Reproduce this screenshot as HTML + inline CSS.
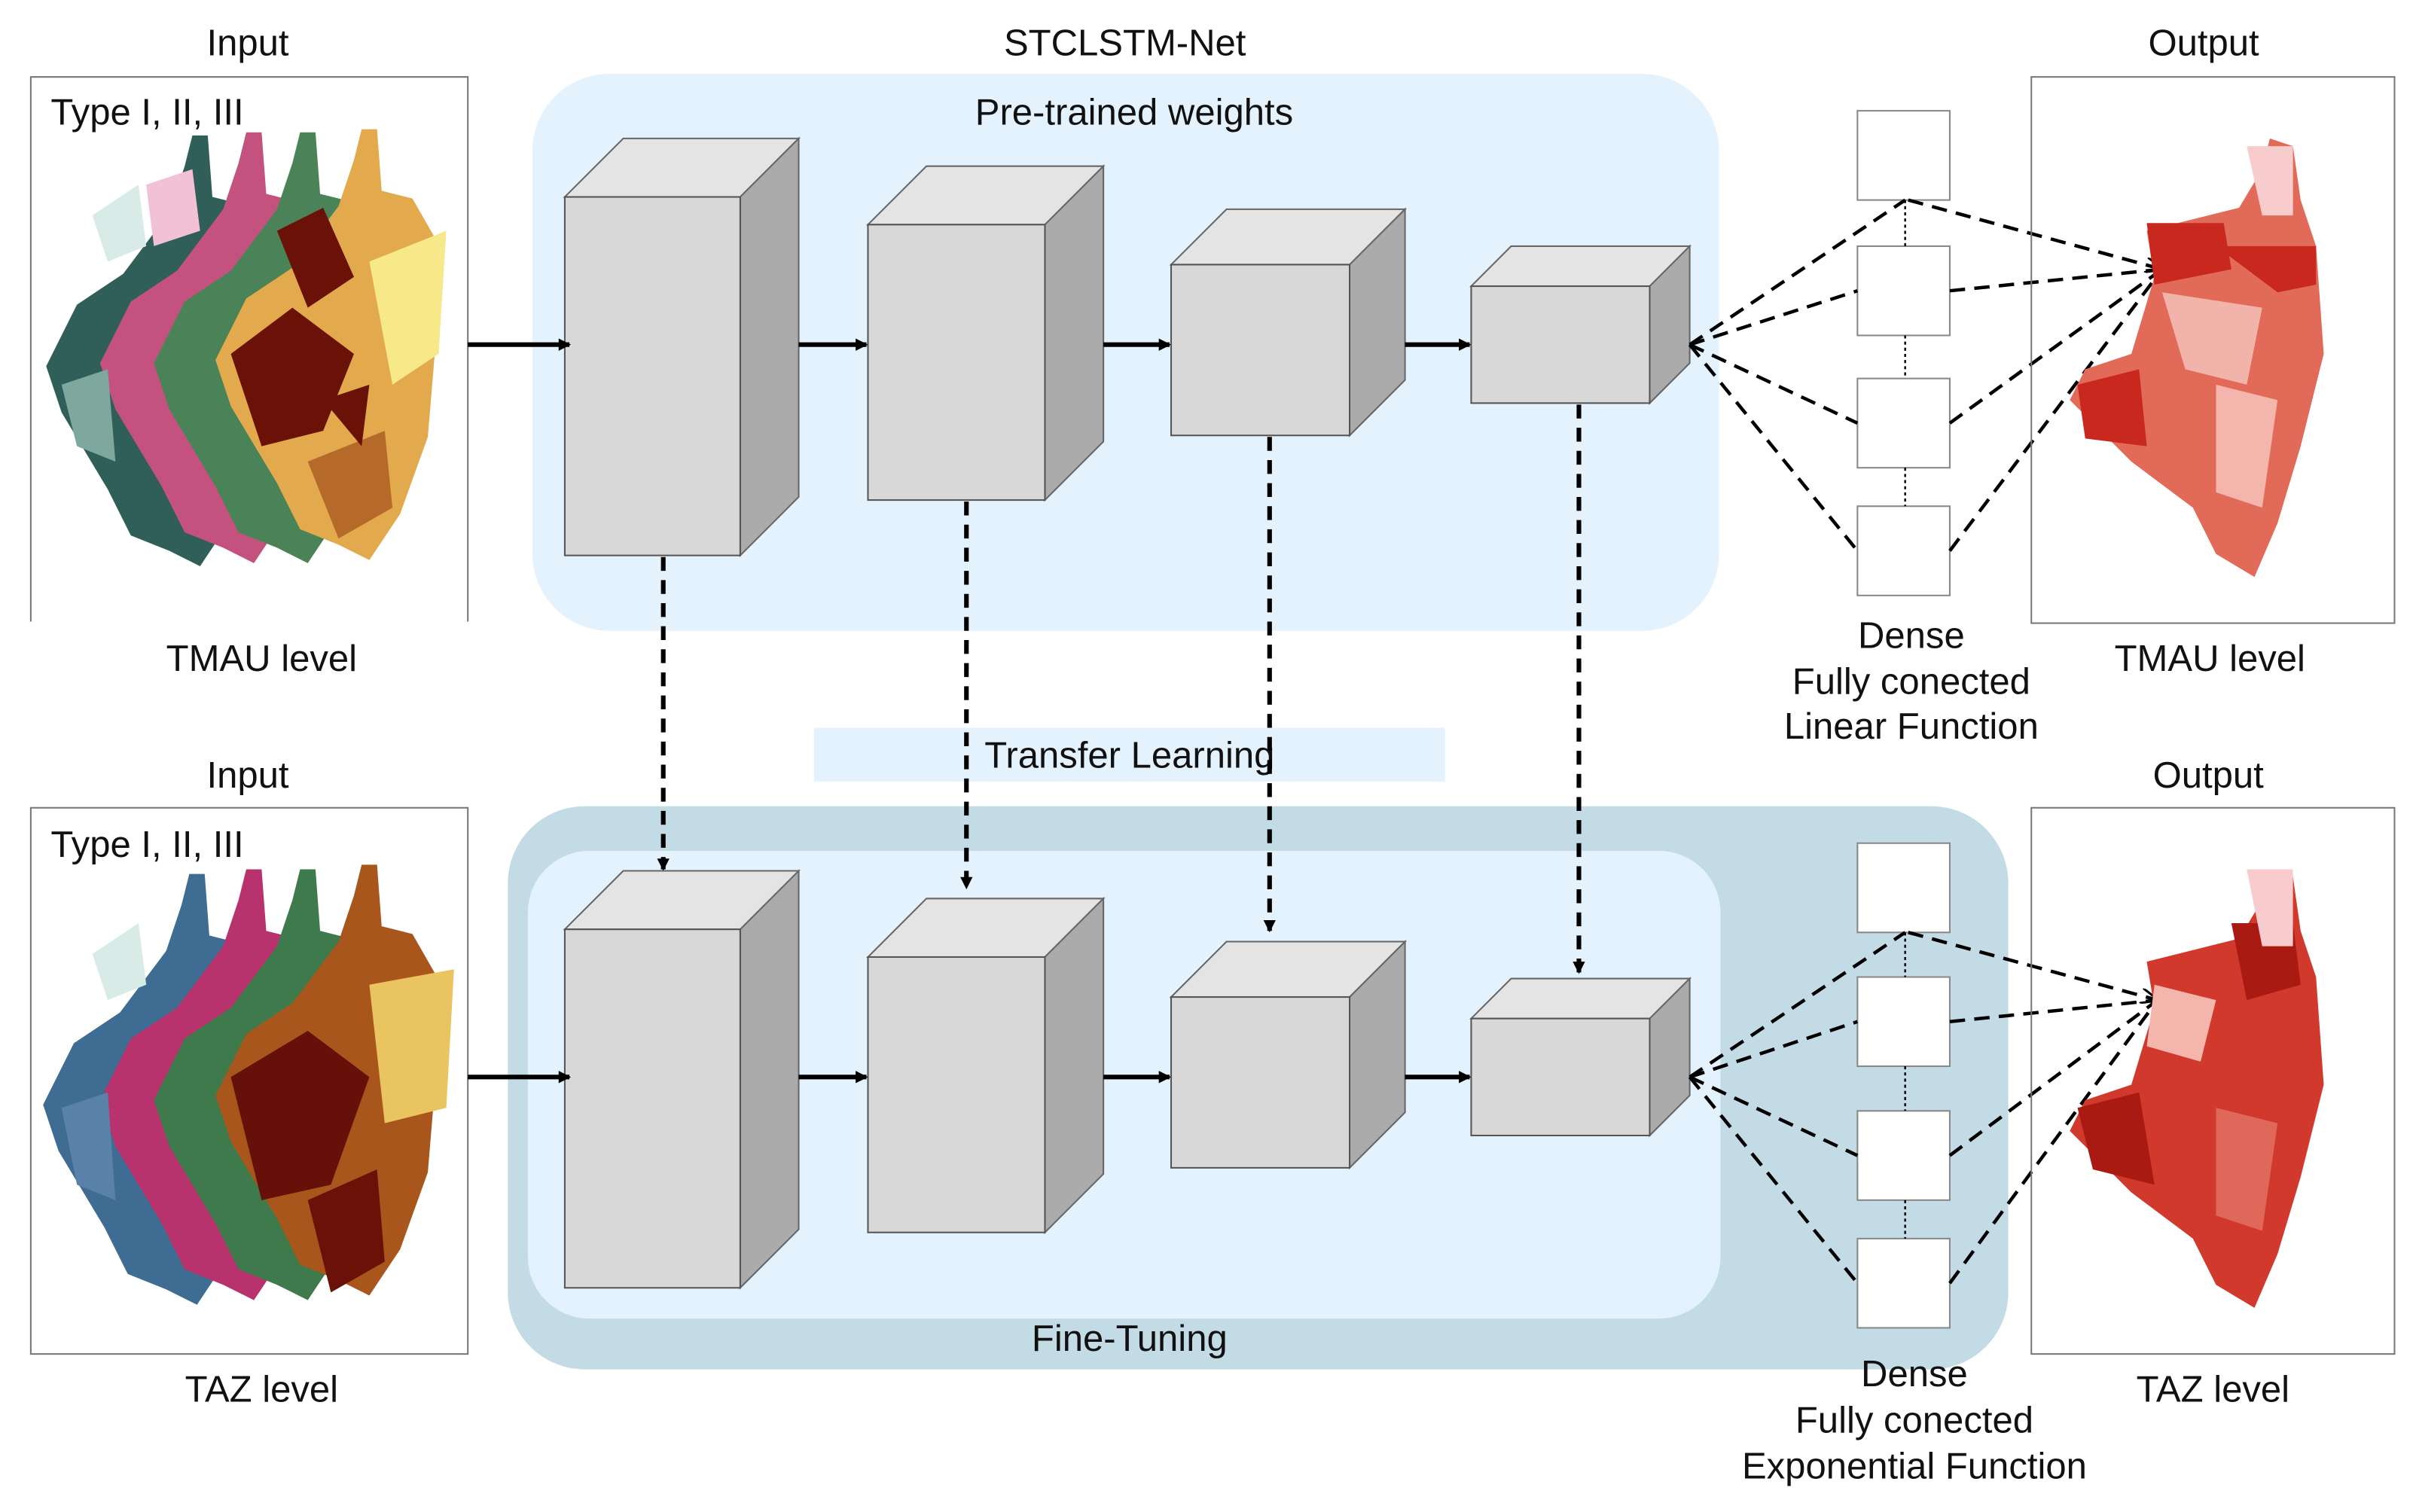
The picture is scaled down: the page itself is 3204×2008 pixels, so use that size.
<!DOCTYPE html>
<html><head><meta charset="utf-8"><style>
html,body{margin:0;padding:0;background:#fff;}
svg{display:block;}
text{font-family:"Liberation Sans Narrow","Liberation Sans",sans-serif;font-size:24px;fill:#111;}
</style></head><body>
<svg width="3204" height="2008" viewBox="0 0 1568 982.7" xmlns="http://www.w3.org/2000/svg">
<defs>
<marker id="ah" markerWidth="8" markerHeight="8" refX="7" refY="4" orient="auto" markerUnits="userSpaceOnUse"><path d="M0,0 L8,4 L0,8 z" fill="#000"/></marker>
<marker id="ah2" markerWidth="12" markerHeight="10" refX="11" refY="5" orient="auto" markerUnits="userSpaceOnUse"><path d="M0,0 L12,5 L0,10" fill="none" stroke="#000" stroke-width="1.5"/></marker>
<path id="shp" d="M95,0 L105,0 L108,40 L128,45 L148,80 L143,140 L138,200 L120,250 L100,280 L80,270 L55,260 L40,230 L10,180 L0,150 L20,110 L50,90 L80,50 L90,20 Z"/>
<path id="oshp" d="M130,0 L145,5 L150,40 L160,70 L165,140 L150,200 L135,250 L120,285 L95,270 L80,240 L40,210 L0,170 L10,150 L40,140 L55,90 L50,60 L90,50 L110,45 L125,20 Z"/>
<g id="cubes">
 <polygon points="367,128 405,90 519,90 481,128" fill="#e4e4e4" stroke="#666" stroke-width="1"/>
 <polygon points="481,128 519,90 519,323 481,361" fill="#ababab" stroke="#666" stroke-width="1"/>
 <rect x="367" y="128" width="114" height="233" fill="#d8d8d8" stroke="#555" stroke-width="1"/>
 <polygon points="564,146 602,108 717,108 679,146" fill="#e4e4e4" stroke="#666" stroke-width="1"/>
 <polygon points="679,146 717,108 717,287 679,325" fill="#ababab" stroke="#666" stroke-width="1"/>
 <rect x="564" y="146" width="115" height="179" fill="#d8d8d8" stroke="#555" stroke-width="1"/>
 <polygon points="761,172 797,136 913,136 877,172" fill="#e4e4e4" stroke="#666" stroke-width="1"/>
 <polygon points="877,172 913,136 913,247 877,283" fill="#ababab" stroke="#666" stroke-width="1"/>
 <rect x="761" y="172" width="116" height="111" fill="#d8d8d8" stroke="#555" stroke-width="1"/>
 <polygon points="956,186 982,160 1098,160 1072,186" fill="#e4e4e4" stroke="#666" stroke-width="1"/>
 <polygon points="1072,186 1098,160 1098,236 1072,262" fill="#ababab" stroke="#666" stroke-width="1"/>
 <rect x="956" y="186" width="116" height="76" fill="#d8d8d8" stroke="#555" stroke-width="1"/>
 <g stroke="#000" stroke-width="3" marker-end="url(#ah)">
  <line x1="304" y1="224" x2="370" y2="224"/>
  <line x1="519" y1="224" x2="563" y2="224"/>
  <line x1="717" y1="224" x2="760" y2="224"/>
  <line x1="913" y1="224" x2="955" y2="224"/>
 </g>
</g>
</defs>

<text x="161" y="36" text-anchor="middle">Input</text>
<text x="731" y="36" text-anchor="middle">STCLSTM-Net</text>
<text x="1432" y="36" text-anchor="middle">Output</text>
<path d="M20,404 L20,50 L304,50 L304,404" fill="none" stroke="#777" stroke-width="1"/>
<text x="33" y="81">Type I, II, III</text>
<text x="170" y="436" text-anchor="middle">TMAU level</text>

<g>
 <use href="#shp" x="30" y="88" fill="#2f5f58"/>
 <use href="#shp" x="65" y="86" fill="#c4527f"/>
 <use href="#shp" x="100" y="86" fill="#4b8358"/>
 <use href="#shp" x="140" y="84" fill="#e3a94d"/>
 <polygon points="150,230 190,200 230,230 210,280 170,290" fill="#6b1208"/>
 <polygon points="180,150 210,135 230,180 200,200" fill="#6b1208"/>
 <polygon points="240,170 290,150 285,230 255,250" fill="#f7e88a"/>
 <polygon points="200,300 250,280 255,330 220,350" fill="#b56a2a"/>
 <polygon points="60,140 90,120 95,160 70,170" fill="#d8ebe6"/>
 <polygon points="95,120 125,110 130,150 100,160" fill="#f3c1d6"/>
 <polygon points="40,250 70,240 75,300 50,290" fill="#7ea79e"/>
 <polygon points="210,260 240,250 235,290" fill="#6b1208"/>
</g>

<rect x="346" y="48" width="771" height="362" rx="50" fill="#e4f2fd"/>
<text x="737" y="81" text-anchor="middle">Pre-trained weights</text>
<use href="#cubes"/>

<g fill="#fff" stroke="#888" stroke-width="1">
 <rect x="1207" y="72" width="60" height="58"/>
 <rect x="1207" y="160" width="60" height="58"/>
 <rect x="1207" y="246" width="60" height="58"/>
 <rect x="1207" y="329" width="60" height="58"/>
</g>
<g stroke="#000" stroke-width="1.2" stroke-dasharray="2,2">
 <line x1="1238" y1="130" x2="1238" y2="160"/><line x1="1238" y1="218" x2="1238" y2="246"/><line x1="1238" y1="304" x2="1238" y2="329"/>
</g>
<g stroke="#000" stroke-width="2.2" stroke-dasharray="10,6" fill="none">
 <line x1="1098" y1="224" x2="1238" y2="130"/><line x1="1098" y1="224" x2="1207" y2="189"/>
 <line x1="1098" y1="224" x2="1207" y2="275"/><line x1="1098" y1="224" x2="1207" y2="358"/>
 <line x1="1240" y1="130" x2="1405" y2="175" marker-end="url(#ah2)"/><line x1="1267" y1="189" x2="1405" y2="175"/>
 <line x1="1267" y1="275" x2="1405" y2="175"/><line x1="1267" y1="358" x2="1405" y2="175"/>
</g>
<text x="1242" y="421" text-anchor="middle">Dense</text>
<text x="1242" y="451" text-anchor="middle">Fully conected</text>
<text x="1242" y="480" text-anchor="middle">Linear Function</text>

<rect x="1320" y="50" width="236" height="355" fill="none" stroke="#777" stroke-width="1"/>
<use href="#oshp" x="1345" y="90" fill="#e26a58"/>
<polygon points="1395,145 1445,145 1450,175 1400,185" fill="#c8281e"/>
<polygon points="1440,160 1505,160 1505,185 1480,190" fill="#c8281e"/>
<polygon points="1405,190 1470,200 1460,250 1420,240" fill="#f2b4aa"/>
<polygon points="1350,250 1390,240 1395,290 1355,285" fill="#c8281e"/>
<polygon points="1460,95 1490,95 1490,140 1470,140" fill="#f8cccc"/>
<polygon points="1440,250 1480,260 1470,330 1440,320" fill="#f4b6ac"/>
<text x="1436" y="436" text-anchor="middle">TMAU level</text>

<rect x="529" y="473" width="410" height="35" fill="#e4f2fd"/>
<text x="734" y="499" text-anchor="middle">Transfer Learning</text>

<text x="161" y="512" text-anchor="middle">Input</text>
<text x="1435" y="512" text-anchor="middle">Output</text>
<rect x="20" y="525" width="284" height="355" fill="none" stroke="#777" stroke-width="1"/>
<text x="33" y="557">Type I, II, III</text>
<text x="170" y="911" text-anchor="middle">TAZ level</text>
<g>
 <use href="#shp" x="28" y="568" fill="#3e6c93"/>
 <use href="#shp" x="65" y="565" fill="#b8336e"/>
 <use href="#shp" x="100" y="565" fill="#3f7a4c"/>
 <use href="#shp" x="140" y="562" fill="#a8561c"/>
 <polygon points="150,700 200,670 240,700 215,770 170,780" fill="#651008"/>
 <polygon points="240,640 295,630 290,720 250,730" fill="#e9c460"/>
 <polygon points="200,780 245,760 250,820 215,840" fill="#6b1208"/>
 <polygon points="60,620 90,600 95,640 70,650" fill="#d8ebe6"/>
 <polygon points="40,720 70,710 75,780 50,770" fill="#5a82a8"/>
</g>

<rect x="330" y="524" width="975" height="366" rx="50" fill="#c2dbe4"/>
<rect x="343" y="553" width="775" height="304" rx="40" fill="#e4f2fd"/>
<text x="734" y="878" text-anchor="middle">Fine-Tuning</text>
<use href="#cubes" y="476"/>

<g stroke="#000" stroke-width="3" stroke-dasharray="9,6" marker-end="url(#ah)">
 <line x1="431" y1="362" x2="431" y2="565"/>
 <line x1="628" y1="326" x2="628" y2="577"/>
 <line x1="825" y1="284" x2="825" y2="605"/>
 <line x1="1026" y1="263" x2="1026" y2="632"/>
</g>

<g fill="#fff" stroke="#888" stroke-width="1">
 <rect x="1207" y="548" width="60" height="58"/>
 <rect x="1207" y="635" width="60" height="58"/>
 <rect x="1207" y="722" width="60" height="58"/>
 <rect x="1207" y="805" width="60" height="58"/>
</g>
<g stroke="#000" stroke-width="1.2" stroke-dasharray="2,2">
 <line x1="1238" y1="606" x2="1238" y2="635"/><line x1="1238" y1="693" x2="1238" y2="722"/><line x1="1238" y1="780" x2="1238" y2="805"/>
</g>
<g stroke="#000" stroke-width="2.2" stroke-dasharray="10,6" fill="none">
 <line x1="1098" y1="700" x2="1238" y2="606"/><line x1="1098" y1="700" x2="1207" y2="664"/>
 <line x1="1098" y1="700" x2="1207" y2="751"/><line x1="1098" y1="700" x2="1207" y2="834"/>
 <line x1="1240" y1="606" x2="1402" y2="650" marker-end="url(#ah2)"/><line x1="1267" y1="664" x2="1402" y2="650"/>
 <line x1="1267" y1="751" x2="1402" y2="650"/><line x1="1267" y1="834" x2="1402" y2="650"/>
</g>
<text x="1244" y="901" text-anchor="middle">Dense</text>
<text x="1244" y="931" text-anchor="middle">Fully conected</text>
<text x="1244" y="961" text-anchor="middle">Exponential Function</text>

<rect x="1320" y="525" width="236" height="355" fill="none" stroke="#777" stroke-width="1"/>
<use href="#oshp" x="1345" y="565" fill="#d0392c"/>
<polygon points="1400,640 1440,650 1430,690 1395,680" fill="#f4b6ac"/>
<polygon points="1450,600 1490,600 1495,640 1460,650" fill="#a81a12"/>
<polygon points="1460,565 1490,565 1490,615 1470,615" fill="#f8cccc"/>
<polygon points="1350,720 1390,710 1400,770 1360,760" fill="#a81a12"/>
<polygon points="1440,720 1480,730 1470,800 1440,790" fill="#e0685a"/>
<text x="1438" y="911" text-anchor="middle">TAZ level</text>
</svg>
</body></html>
